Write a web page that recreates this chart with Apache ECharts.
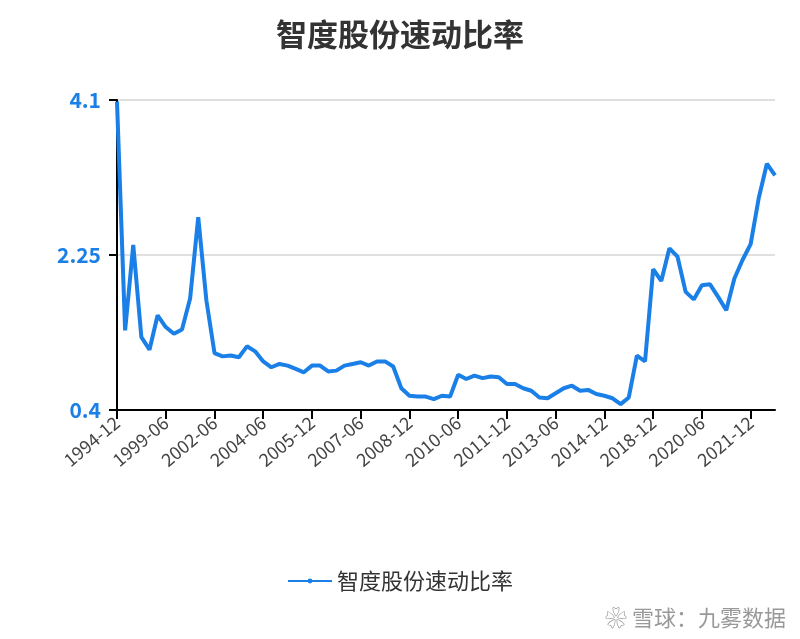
<!DOCTYPE html>
<html>
<head>
<meta charset="utf-8">
<script src="https://cdn.jsdelivr.net/npm/echarts@6/dist/echarts.min.js"></script>
<style>html,body{margin:0;padding:0;background:#fff;}#main{width:800px;height:639px;}</style>
</head>
<body>
<div id="main"></div>
<script>
// 报告期
var dates = [
	'1994-12', '1995-09', '1996-06', '1997-03', '1997-12', '1998-09',
	'1999-06', '1999-12', '2000-06', '2000-12', '2001-06', '2001-12',
	'2002-06', '2002-10', '2003-02', '2003-06', '2003-10', '2004-02',
	'2004-06', '2004-09', '2004-12', '2005-03', '2005-06', '2005-09',
	'2005-12', '2006-03', '2006-06', '2006-09', '2006-12', '2007-03',
	'2007-06', '2007-09', '2007-12', '2008-03', '2008-06', '2008-09',
	'2008-12', '2009-03', '2009-06', '2009-09', '2009-12', '2010-03',
	'2010-06', '2010-09', '2010-12', '2011-03', '2011-06', '2011-09',
	'2011-12', '2012-03', '2012-06', '2012-09', '2012-12', '2013-03',
	'2013-06', '2013-09', '2013-12', '2014-03', '2014-06', '2014-09',
	'2014-12', '2015-08', '2016-04', '2016-12', '2017-08', '2018-04',
	'2018-12', '2019-03', '2019-06', '2019-09', '2019-12', '2020-03',
	'2020-06', '2020-09', '2020-12', '2021-03', '2021-06', '2021-09',
	'2021-12', '2022-03', '2022-06', '2022-09'
];
// 速动比率
var quickRatio = [
	4.08, 1.35, 2.37, 1.27, 1.12, 1.53, 1.39, 1.31, 1.36, 1.73, 2.70, 1.71,
	1.08, 1.04, 1.05, 1.03, 1.16, 1.10, 0.98, 0.91, 0.95, 0.93, 0.89, 0.85,
	0.93, 0.93, 0.86, 0.87, 0.93, 0.95, 0.97, 0.93, 0.98, 0.98, 0.92, 0.66,
	0.57, 0.56, 0.56, 0.53, 0.57, 0.56, 0.82, 0.77, 0.81, 0.78, 0.80, 0.79,
	0.71, 0.71, 0.66, 0.63, 0.55, 0.54, 0.60, 0.66, 0.69, 0.63, 0.64, 0.59,
	0.57, 0.54, 0.47, 0.55, 1.05, 0.98, 2.08, 1.94, 2.33, 2.23, 1.81, 1.72,
	1.89, 1.90, 1.75, 1.59, 1.97, 2.19, 2.38, 2.93, 3.34, 3.20
];
var seriesName = '智度股份速动比率';
var font = '"Noto Sans CJK SC", "Noto Sans", sans-serif';

var option = {
	animation: false,
	textStyle: { fontFamily: font },
	title: {
		text: seriesName,
		left: 'center',
		top: 14,
		textStyle: { fontSize: 31, fontWeight: 'bold', color: '#333', fontFamily: font }
	},
	legend: {
		bottom: 42,
		itemWidth: 44,
		itemHeight: 6,
		textStyle: { fontSize: 22, color: '#333', fontFamily: font },
		data: [seriesName]
	},
	grid: { left: 117, right: 25, top: 100, bottom: 229 },
	xAxis: {
		type: 'category',
		data: dates,
		boundaryGap: false,
		axisLine: { lineStyle: { color: '#000', width: 2 } },
		axisTick: { alignWithLabel: true, interval: 5, length: 9, lineStyle: { color: '#000', width: 2 } },
		axisLabel: { interval: 5, rotate: 40, fontSize: 18, color: '#444', margin: 10, fontFamily: font }
	},
	yAxis: {
		type: 'value',
		min: 0.4,
		max: 4.1,
		interval: 1.85,
		axisLine: { show: true, lineStyle: { color: '#000', width: 2 } },
		axisTick: { show: true, length: 8, lineStyle: { color: '#000', width: 2 } },
		axisLabel: { fontSize: 21, fontWeight: 'bold', color: '#1a7fe6', margin: 16, fontFamily: font },
		splitLine: { lineStyle: { color: '#e0e0e0', width: 2 } }
	},
	graphic: [{
		type: 'text',
		right: 14,
		bottom: 10,
		style: { text: '❀ 雪球：九雾数据', fontSize: 22, fill: '#999', fontFamily: font }
	}],
	series: [{
		name: seriesName,
		type: 'line',
		data: quickRatio,
		symbol: 'none',
		lineStyle: { color: '#1a7fe6', width: 4 },
		itemStyle: { color: '#1a7fe6' }
	}]
};
echarts.init(document.getElementById('main')).setOption(option);
</script>
</body>
</html>
